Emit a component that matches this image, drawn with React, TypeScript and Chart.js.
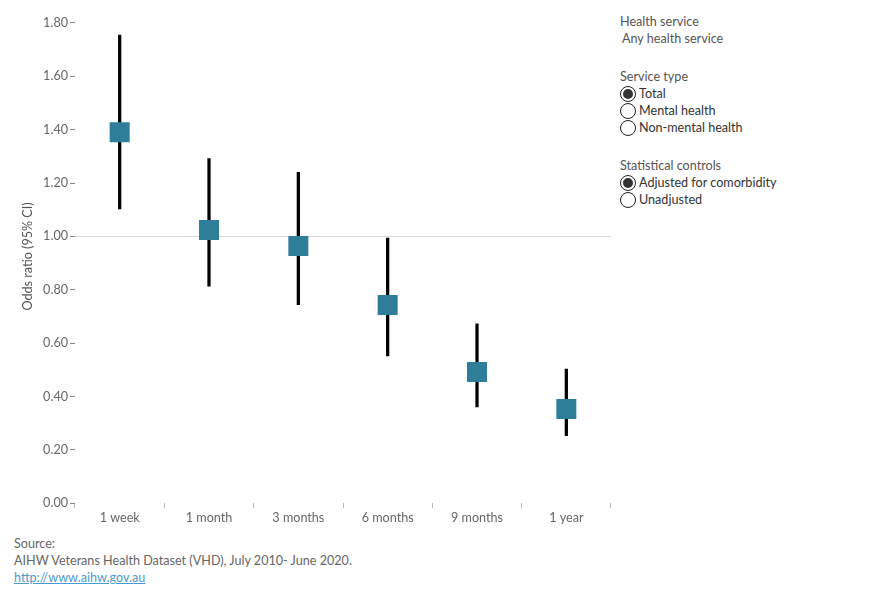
import React, { useEffect, useRef } from "react";
import { Chart, registerables } from "chart.js";

Chart.register(...registerables);

const categories = ["1 week", "1 month", "3 months", "6 months", "9 months", "1 year"];
const oddsRatio = [1.39, 1.024, 0.964, 0.743, 0.492, 0.353];
const ciLower = [1.103, 0.814, 0.744, 0.552, 0.361, 0.253];
const ciUpper = [1.754, 1.292, 1.24, 0.994, 0.672, 0.503];
const yAxisMin = 0;
const yAxisMax = 1.85;
const yStep = 0.2;
const referenceValue = 1.0;

const serviceTypes = ["Total", "Mental health", "Non-mental health"];
const controls = ["Adjusted for comorbidity", "Unadjusted"];

const FONT = "Lato, 'Noto Sans', 'DejaVu Sans', sans-serif";
const FS = 12.6;
const SQUARE = "#2e7e99";

function Radio({ checked, label, top }: { checked: boolean; label: string; top: number }) {
  return (
    <div style={{ position: "absolute", left: 620, top: top - 8, height: 16, display: "flex", alignItems: "center" }}>
      <div
        style={{
          width: 16,
          height: 16,
          borderRadius: "50%",
          border: "1px solid #222",
          background: "#fff",
          boxSizing: "border-box",
          display: "flex",
          alignItems: "center",
          justifyContent: "center",
        }}
      >
        {checked ? <div style={{ width: 10, height: 10, borderRadius: "50%", background: "#333" }} /> : null}
      </div>
      <span style={{ marginLeft: 3, fontSize: FS, color: "#333", lineHeight: "16px" }}>{label}</span>
    </div>
  );
}

export default function App() {
  const ref = useRef<HTMLCanvasElement | null>(null);

  useEffect(() => {
    if (!ref.current) return;
    const font = { family: FONT, size: FS };
    const chart = new Chart(ref.current, {
      type: "bar",
      data: {
        labels: categories,
        datasets: [
          {
            type: "line",
            label: "Odds ratio",
            data: oddsRatio,
            showLine: false,
            pointStyle: "rect",
            pointRadius: 14.14,
            pointBackgroundColor: SQUARE,
            pointBorderWidth: 0,
            borderWidth: 0,
            order: 0,
          } as any,
          {
            type: "bar",
            label: "95% CI",
            data: ciLower.map((l, i) => [l, ciUpper[i]]),
            backgroundColor: "#000",
            borderWidth: 0,
            barThickness: 2.6,
            order: 1,
          } as any,
        ],
      },
      options: {
        animation: false,
        responsive: false,
        maintainAspectRatio: false,
        layout: { autoPadding: false, padding: { top: 9.4, right: 4, left: 0, bottom: 0 } },
        plugins: { legend: { display: false }, tooltip: { enabled: false } },
        scales: {
          x: {
            type: "category",
            offset: true,
            grid: { offset: true, drawOnChartArea: false, drawTicks: true, tickLength: 5, tickColor: "#bbb" },
            border: { display: false },
            ticks: { color: "#666", font, padding: 2, maxRotation: 0 },
            afterFit: (s: any) => {
              s.height = 26.7;
            },
          },
          y: {
            min: yAxisMin,
            max: yAxisMax,
            ticks: {
              stepSize: yStep,
              includeBounds: false,
              color: "#666",
              font,
              padding: 2,
              callback: (v: any) => Number(v).toFixed(2),
            },
            grid: {
              color: (ctx: any) =>
                ctx.tick && Math.abs(ctx.tick.value - referenceValue) < 1e-9 ? "#d9d9d9" : "rgba(0,0,0,0)",
              tickColor: "#888",
              tickLength: 5,
            },
            border: { display: false },
            title: { display: true, text: "Odds ratio (95% CI)", color: "#555", font, padding: { top: 20, bottom: 0 } },
            afterFit: (s: any) => {
              s.width = 75;
            },
          },
        },
      } as any,
    });
    return () => chart.destroy();
  }, []);

  const head = { position: "absolute" as const, left: 620, fontSize: FS, color: "#555", lineHeight: "16px" };

  return (
    <div style={{ position: "absolute", left: 0, top: 0, width: 890, height: 600, fontFamily: FONT, background: "#fff" }}>
      <canvas ref={ref} width={615} height={530} style={{ position: "absolute", left: 0, top: 0, width: 615, height: 530 }} />
      <div style={{ ...head, top: 14 }}>Health service</div>
      <div style={{ ...head, left: 622, top: 31 }}>Any health service</div>
      <div style={{ ...head, top: 69 }}>Service type</div>
      {serviceTypes.map((t, i) => (
        <Radio key={t} checked={i === 0} label={t} top={94 + i * 17} />
      ))}
      <div style={{ ...head, top: 158 }}>Statistical controls</div>
      {controls.map((t, i) => (
        <Radio key={t} checked={i === 0} label={t} top={183 + i * 17} />
      ))}
      <div style={{ position: "absolute", left: 14, top: 535, fontSize: FS, color: "#666", lineHeight: "17px" }}>
        <div>Source:</div>
        <div>AIHW Veterans Health Dataset (VHD), July 2010- June 2020.</div>
        <div>
          <a href="http://www.aihw.gov.au" style={{ color: "#4a9bd0", textDecoration: "underline" }}>
            http://www.aihw.gov.au
          </a>
        </div>
      </div>
    </div>
  );
}
